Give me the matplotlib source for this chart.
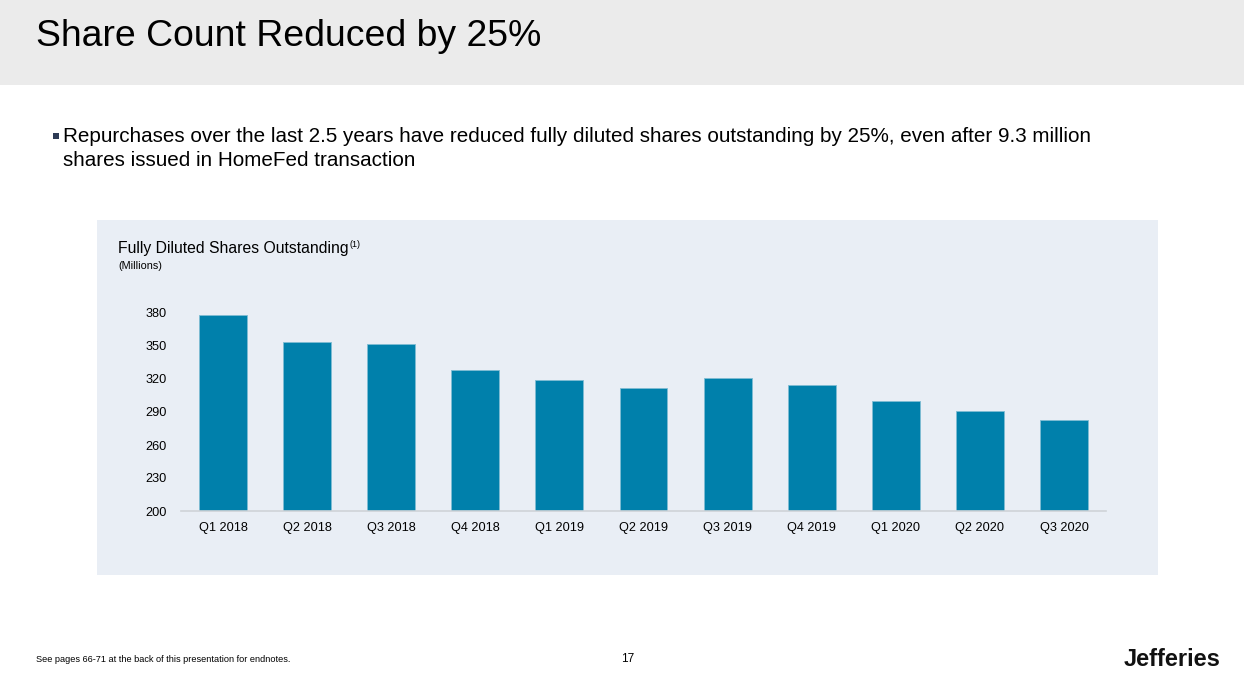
import matplotlib
matplotlib.use('Agg')
import matplotlib.pyplot as plt
from matplotlib.patches import Rectangle

plt.rcParams['font.family'] = ['Liberation Sans', 'DejaVu Sans']

# data (millions of fully diluted shares)
quarters = ['Q1 2018', 'Q2 2018', 'Q3 2018', 'Q4 2018', 'Q1 2019', 'Q2 2019',
            'Q3 2019', 'Q4 2019', 'Q1 2020', 'Q2 2020', 'Q3 2020']
shares = [378, 354, 352, 328, 319, 312, 321, 314.5, 300, 291, 283]
y_ticks = [200, 230, 260, 290, 320, 350, 380]

W, H = 1244, 676
fig = plt.figure(figsize=(W / 100, H / 100), dpi=100)
fig.patch.set_facecolor('white')


def px(x, y):
    """ pixel coords (top-left origin) -> figure fraction """
    return x / W, 1 - y / H


# header band
fig.patches.append(Rectangle((0, 1 - 85 / H), 1, 85 / H, transform=fig.transFigure,
                             facecolor='#ebebeb', edgecolor='none', zorder=-2))
fig.text(*px(36, 36), 'Share Count Reduced by 25%', fontsize=26.9, color='black',
         va='center', ha='left')

# bullet text
fig.patches.append(Rectangle(px(53, 139), 6 / W, 6 / H, transform=fig.transFigure,
                             facecolor='#2e3b55', edgecolor='none'))
fig.text(*px(63, 137), 'Repurchases over the last 2.5 years have reduced fully diluted shares '
         'outstanding by 25%, even after 9.3 million', fontsize=14.9, va='center', ha='left')
fig.text(*px(63, 161), 'shares issued in HomeFed transaction', fontsize=14.9,
         va='center', ha='left')

# chart panel
fig.patches.append(Rectangle(px(97, 575), (1158 - 97) / W, (575 - 220) / H,
                             transform=fig.transFigure, facecolor='#e9eef5',
                             edgecolor='none', zorder=-2))
fig.text(*px(118, 248), 'Fully Diluted Shares Outstanding', fontsize=11.3,
         va='center', ha='left')
fig.text(*px(350, 244), '(1)', fontsize=6.5, va='center', ha='left')
fig.text(*px(118, 266), '(Millions)', fontsize=7.8, va='center', ha='left')

ax = fig.add_axes([181 / W, (H - 511) / H, (1106 - 181) / W, 209 / H])
ax.set_zorder(2)
ax.patch.set_alpha(0)
x = range(len(quarters))
ax.bar(x, shares, width=0.57, bottom=0, color='#0080ab', edgecolor='#7fbcd3',
       linewidth=0.6, zorder=2)
ax.set_xlim(-0.5, len(quarters) - 0.5)
ax.set_ylim(200, 390)
ax.set_yticks(y_ticks)
ax.set_yticklabels([str(v) for v in y_ticks])
ax.set_xticks(list(x))
ax.set_xticklabels(quarters)
ax.tick_params(axis='both', length=0, labelsize=9.2, colors='black')
ax.tick_params(axis='y', pad=10)
ax.tick_params(axis='x', pad=8)
for side in ['top', 'right', 'left']:
    ax.spines[side].set_visible(False)
ax.spines['bottom'].set_color('#cfd3d8')
ax.spines['bottom'].set_linewidth(1.2)
ax.spines['bottom'].set_zorder(3)

# footer
fig.text(*px(36, 659), 'See pages 66-71 at the back of this presentation for endnotes.',
         fontsize=6.6, va='center', ha='left')
fig.text(*px(628, 659), '17', fontsize=8.5, va='center', ha='center')
fig.text(*px(1221, 659), 'Jefferies', fontsize=17, va='center', ha='right',
         fontweight='bold', color='#111111')

fig.savefig('out.png', dpi=100)
